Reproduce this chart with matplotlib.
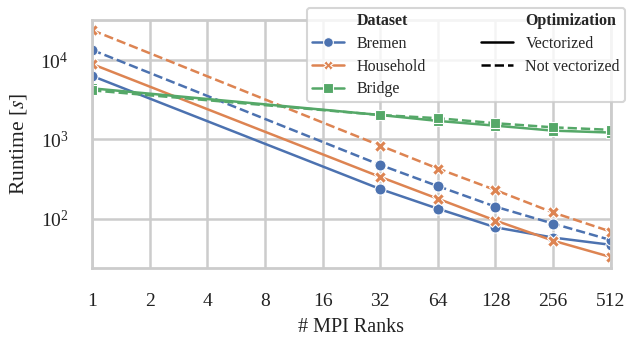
import matplotlib
matplotlib.use("Agg")
import matplotlib.pyplot as plt
import seaborn as sns
from matplotlib.lines import Line2D
from matplotlib.ticker import FixedLocator, FixedFormatter, LogLocator

sns.set_theme(style="whitegrid")
plt.rcParams['font.family'] = ['Liberation Serif', 'DejaVu Serif']
plt.rcParams['mathtext.fontset'] = 'stix'

ranks = [1, 32, 64, 128, 256, 512]
tick_ranks = [1, 2, 4, 8, 16, 32, 64, 128, 256, 512]

bremen_vec = [6300, 237, 134, 78, 58, 47]
bremen_novec = [13400, 477, 258, 142, 87, 54]
household_vec = [8900, 337, 179, 95, 53, 33]
household_novec = [23800, 836, 430, 230, 120, 69]
bridge_vec = [4400, 2030, 1710, 1490, 1290, 1220]
bridge_novec = [4150, 2030, 1850, 1600, 1420, 1320]

datasets = ["Bremen", "Household", "Bridge"]
colors = ["#4C72B0", "#DD8452", "#55A868"]
markers = ["o", "X", "s"]
series = {
    "Bremen": (bremen_vec, bremen_novec),
    "Household": (household_vec, household_novec),
    "Bridge": (bridge_vec, bridge_novec),
}

fig = plt.figure(figsize=(6.27, 3.44), dpi=100)
ax = fig.add_axes([0.147, 0.221, 0.827, 0.721])

for name, c, m in zip(datasets, colors, markers):
    vec, novec = series[name]
    ms = 8 if m != "s" else 7
    ax.plot(ranks, vec, color=c, marker=m, ls="-", lw=1.8, ms=ms,
            markeredgecolor="white", markeredgewidth=0.8)
    ax.plot(ranks, novec, color=c, marker=m, ls="--", lw=1.8, ms=ms,
            markeredgecolor="white", markeredgewidth=0.8)

ax.set_xscale("log", base=2)
ax.set_yscale("log")
ax.set_xlim(1, 512)
ax.set_ylim(24, 32000)
ax.xaxis.set_major_locator(FixedLocator(tick_ranks))
ax.xaxis.set_major_formatter(FixedFormatter([str(t) for t in tick_ranks]))
ax.xaxis.set_minor_locator(FixedLocator([]))
ax.yaxis.set_major_locator(LogLocator(base=10))
ax.yaxis.set_minor_locator(FixedLocator([]))

ax.tick_params(axis="x", labelsize=14, pad=12, colors="#222222")
ax.tick_params(axis="y", labelsize=14, pad=11, colors="#222222")
ax.grid(True, color="#cccccc", lw=1.8)
for sp in ax.spines.values():
    sp.set_color("#cccccc")
    sp.set_linewidth(2)

ax.set_xlabel("# MPI Ranks", fontsize=14.5, labelpad=6, color="#222222")
ax.set_ylabel("Runtime [$s$]", fontsize=15.5, labelpad=8, color="#222222")

blank = Line2D([], [], color="none")
handles = [blank]
labels = ["Dataset"]
for name, c, m in zip(datasets, colors, markers):
    handles.append(Line2D([], [], color=c, marker=m, lw=1.8, ms=7,
                          markeredgecolor="white", markeredgewidth=0.8))
    labels.append(name)
handles += [blank, Line2D([], [], color="black", ls="-", lw=1.8),
            Line2D([], [], color="black", ls="--", lw=1.8), blank]
labels += ["Optimization", "Vectorized", "Not vectorized", ""]

leg = ax.legend(handles, labels, ncol=2, loc="upper right",
                bbox_to_anchor=(1.043, 1.08), fontsize=11.5,
                handlelength=2.0, columnspacing=3.4, labelspacing=0.42,
                framealpha=0.8, borderpad=0.32, handletextpad=0.8)
leg.get_frame().set_edgecolor("#cccccc")
leg.get_frame().set_linewidth(1.5)
for t in leg.get_texts():
    if t.get_text() in ("Dataset", "Optimization"):
        t.set_fontweight("bold")

fig.savefig("out.png", dpi=100)
